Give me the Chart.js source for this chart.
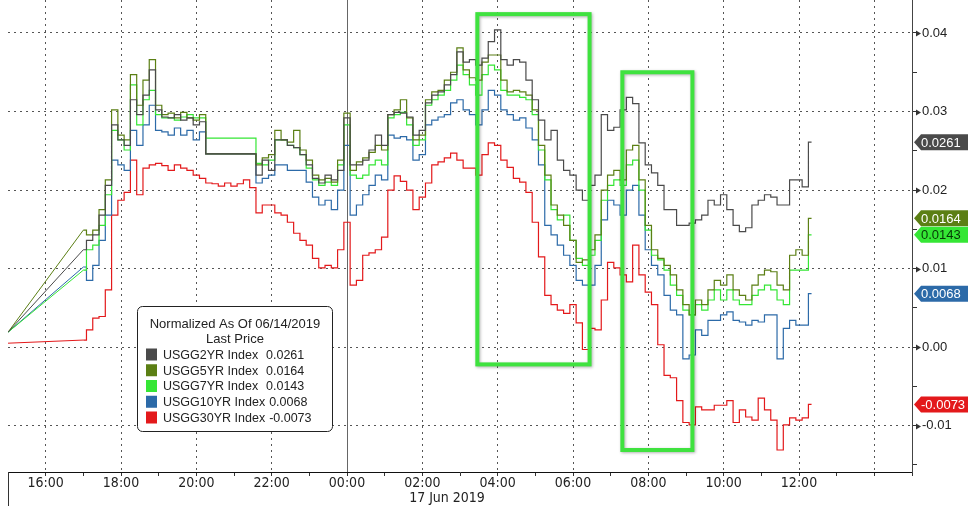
<!DOCTYPE html>
<html>
<head>
<meta charset="utf-8">
<script src="https://cdn.jsdelivr.net/npm/chart.js@4/dist/chart.umd.min.js"></script>
<style>
html, body { margin: 0; padding: 0; background: #fff; }
#wrap { width: 976px; height: 509px; }
</style>
</head>
<body>
<div id="wrap"><canvas id="yieldChart"></canvas></div>
<script>
// hours relative to 00:00 on 17 Jun 2019; first print Sunday 15:00, then 10-minute bars from 17:00
let times = [-9];
for (let i = 0; i <= 116; i++) times.push(-7 + i / 6);

let usgg2 = [0.0019,
  0.0124,0.0136,0.0143,0.0168,0.0206,0.0283,0.0264,0.0257,0.0315,0.0296,0.0321,0.0353,0.0302,0.0293,0.0292,0.0296,0.0289,0.0292,0.0283,0.0287,
  0.0246,0.0246,0.0246,0.0246,0.0246,0.0246,0.0246,0.0246,
  0.0219,0.0238,0.0225,0.0264,0.0264,0.0257,0.0254,0.0245,0.0232,0.0215,0.0209,0.0219,0.0213,0.0225,
  0.0292,0.0232,0.0232,0.0238,0.0251,0.0270,0.0257,0.0296,0.0299,0.0298,0.0293,0.0270,0.0276,
  0.0311,0.0321,0.0325,0.0334,0.0347,0.0376,0.0363,0.0366,0.0359,0.0368,0.0389,0.0404,0.0366,0.0359,0.0366,0.0363,
  0.0340,0.0315,0.0289,0.0264,0.0276,0.0238,0.0225,0.0219,0.0200,0.0187,0.0206,0.0219,
  0.0296,0.0276,0.0280,0.0302,0.0318,0.0310,0.0260,0.0232,0.0222,0.0206,
  0.0175,0.0175,0.0155,0.0155,0.0158,0.0162,0.0168,0.0187,0.0181,0.0194,0.0175,0.0155,
  0.0147,0.0152,0.0181,0.0187,0.0194,0.0191,0.0181,0.0181,0.0213,0.0213,0.0204,0.0261];

let usgg5 = [0.0019,
  0.0149,0.0143,0.0149,0.0175,0.0213,0.0302,0.0270,0.0264,0.0347,0.0308,0.0340,0.0366,0.0308,0.0296,0.0298,0.0292,0.0299,0.0292,0.0289,0.0296,
  0.0246,0.0246,0.0246,0.0246,0.0246,0.0246,0.0246,0.0246,
  0.0232,0.0241,0.0245,0.0276,0.0264,0.0261,0.0276,0.0251,0.0238,0.0219,0.0213,0.0215,0.0210,0.0238,
  0.0298,0.0225,0.0236,0.0241,0.0248,0.0257,0.0251,0.0296,0.0302,0.0315,0.0292,0.0264,0.0270,
  0.0315,0.0325,0.0327,0.0340,0.0350,0.0381,0.0353,0.0343,0.0340,0.0363,0.0372,0.0372,0.0340,0.0325,0.0327,0.0325,
  0.0321,0.0302,0.0257,0.0219,0.0181,0.0168,0.0155,0.0136,0.0108,0.0111,0.0124,0.0143,
  0.0200,0.0219,0.0225,0.0213,0.0251,0.0257,0.0213,0.0155,0.0124,0.0113,
  0.0104,0.0092,0.0073,0.0054,0.0041,0.0060,0.0054,0.0073,0.0085,0.0079,0.0092,0.0073,
  0.0066,0.0060,0.0079,0.0092,0.0098,0.0096,0.0079,0.0073,0.0117,0.0124,0.0117,0.0164];

let usgg7 = [0.0019,
  0.0098,0.0124,0.0130,0.0155,0.0194,0.0276,0.0264,0.0251,0.0334,0.0283,0.0315,0.0327,0.0296,0.0292,0.0292,0.0289,0.0293,0.0296,0.0292,0.0292,
  0.0266,0.0266,0.0266,0.0266,0.0266,0.0266,0.0266,0.0266,
  0.0234,0.0232,0.0238,0.0264,0.0264,0.0257,0.0254,0.0245,0.0228,0.0213,0.0206,0.0210,0.0206,0.0232,
  0.0283,0.0219,0.0215,0.0219,0.0232,0.0238,0.0232,0.0292,0.0296,0.0299,0.0283,0.0257,0.0264,
  0.0308,0.0315,0.0321,0.0327,0.0340,0.0359,0.0347,0.0334,0.0321,0.0347,0.0359,0.0353,0.0327,0.0321,0.0321,0.0318,
  0.0315,0.0296,0.0251,0.0213,0.0175,0.0162,0.0168,0.0136,0.0113,0.0104,0.0117,0.0136,
  0.0187,0.0206,0.0213,0.0206,0.0232,0.0238,0.0200,0.0149,0.0117,0.0111,
  0.0098,0.0079,0.0066,0.0047,0.0041,0.0054,0.0047,0.0060,0.0073,0.0060,0.0073,0.0060,
  0.0054,0.0054,0.0066,0.0073,0.0079,0.0073,0.0060,0.0054,0.0098,0.0098,0.0098,0.0143];

let usgg10 = [0.0019,
  0.0102,0.0085,0.0104,0.0136,0.0168,0.0238,0.0232,0.0225,0.0276,0.0257,0.0283,0.0308,0.0276,0.0274,0.0270,0.0279,0.0270,0.0276,0.0264,0.0274,
  0.0246,0.0246,0.0246,0.0246,0.0246,0.0246,0.0246,0.0246,
  0.0209,0.0215,0.0219,0.0232,0.0232,0.0225,0.0225,0.0225,0.0210,0.0191,0.0181,0.0187,0.0175,0.0200,
  0.0257,0.0168,0.0181,0.0194,0.0206,0.0219,0.0213,0.0270,0.0266,0.0268,0.0264,0.0238,0.0245,
  0.0283,0.0289,0.0293,0.0296,0.0311,0.0315,0.0302,0.0296,0.0283,0.0302,0.0327,0.0321,0.0302,0.0296,0.0289,0.0292,
  0.0279,0.0264,0.0232,0.0155,0.0143,0.0130,0.0117,0.0104,0.0085,0.0079,0.0079,0.0104,
  0.0162,0.0187,0.0181,0.0168,0.0200,0.0206,0.0168,0.0124,0.0104,0.0092,
  0.0066,0.0047,0.0041,-0.0015,-0.0010,0.0022,0.0015,0.0034,0.0034,0.0041,0.0045,0.0034,
  0.0032,0.0028,0.0034,0.0032,0.0041,0.0041,-0.0015,0.0024,0.0034,0.0028,0.0028,0.0068];

let usgg30 = [0.0005,
  0.0009,0.0022,0.0037,0.0039,0.0073,0.0168,0.0187,0.0197,0.0238,0.0194,0.0228,0.0232,0.0234,0.0231,0.0225,0.0232,0.0228,0.0225,0.0219,0.0215,
  0.0209,0.0208,0.0205,0.0209,0.0205,0.0208,0.0213,0.0203,
  0.0171,0.0181,0.0181,0.0171,0.0168,0.0159,0.0145,0.0136,0.0130,0.0113,0.0101,0.0104,0.0101,0.0124,
  0.0159,0.0079,0.0085,0.0117,0.0120,0.0124,0.0140,0.0200,0.0218,0.0211,0.0200,0.0175,0.0191,
  0.0209,0.0232,0.0236,0.0241,0.0247,0.0238,0.0228,0.0228,0.0219,0.0245,0.0260,0.0257,0.0238,0.0229,0.0215,0.0210,
  0.0197,0.0159,0.0115,0.0066,0.0054,0.0047,0.0043,0.0054,0.0031,-0.0003,0.0024,0.0022,
  0.0060,0.0108,0.0101,0.0092,0.0083,0.0130,0.0092,0.0070,0.0054,0.0003,
  -0.0036,-0.0039,-0.0068,-0.0096,-0.0099,-0.0076,-0.0080,-0.0080,-0.0074,-0.0074,-0.0068,-0.0096,
  -0.0080,-0.0089,-0.0093,-0.0065,-0.0080,-0.0093,-0.0131,-0.0099,-0.0090,-0.0093,-0.0090,-0.0073];

let seriesNames = ['USGG2YR Index', 'USGG5YR Index', 'USGG7YR Index', 'USGG10YR Index', 'USGG30YR Index'];
let seriesColors = ['#4a4a4a', '#5b7f14', '#35e635', '#2c6aa8', '#e3191b'];
let tagTextColors = ['#fff', '#fff', '#063806', '#fff', '#fff'];

let xLabelHours = [-8, -6, -4, -2, 0, 2, 4, 6, 8, 10, 12];
let xTickLabels = ['16:00', '18:00', '20:00', '22:00', '00:00', '02:00', '04:00', '06:00', '08:00', '10:00', '12:00'];
let yMajorTicks = [-0.01, 0.00, 0.01, 0.02, 0.03, 0.04];
let yMinorTicks = [-0.015, -0.005, 0.005, 0.015, 0.025, 0.035];

// green boxes drawn on the chart (hours, value)
let highlights = [
  { from: 3.46, to: 6.44, top: 0.0424, bottom: -0.0022 },
  { from: 7.31, to: 9.17, top: 0.0350, bottom: -0.0131 }
];

let allSeries = [usgg2, usgg5, usgg7, usgg10, usgg30];
let narrow = "'Liberation Sans Narrow', 'DejaVu Sans Condensed', sans-serif";
let plain = "'Liberation Sans', Arial, sans-serif";

function isMajorY(v) {
  return Math.abs(v * 100 - Math.round(v * 100)) < 1e-6;
}

function noEdgePadding(scale) {
  scale.paddingTop = 0;
  scale.paddingBottom = 0;
  scale.paddingLeft = 0;
  scale.paddingRight = 0;
}

let bbgDecor = {
  id: 'bbgDecor',
  beforeDatasetsDraw(chart) {
    let { ctx, chartArea: a, scales: { x } } = chart;
    let px = Math.round(x.getPixelForValue(0)) + 0.5;
    ctx.save();
    ctx.strokeStyle = '#666';
    ctx.lineWidth = 1;
    ctx.beginPath();
    ctx.moveTo(px, a.top);
    ctx.lineTo(px, a.bottom);
    ctx.stroke();
    ctx.restore();
  },
  afterDatasetsDraw(chart) {
    let { ctx, scales: { x, y } } = chart;
    ctx.save();
    ctx.strokeStyle = '#3fe23f';
    ctx.lineWidth = 4;
    ctx.shadowColor = 'rgba(0,0,0,0.3)';
    ctx.shadowBlur = 3;
    ctx.shadowOffsetX = 1;
    ctx.shadowOffsetY = 1;
    highlights.forEach(h => {
      let x1 = x.getPixelForValue(h.from), x2 = x.getPixelForValue(h.to);
      let y1 = y.getPixelForValue(h.top), y2 = y.getPixelForValue(h.bottom);
      ctx.strokeRect(x1, y1, x2 - x1, y2 - y1);
    });
    ctx.restore();
  },
  afterDraw(chart) {
    let { ctx, chartArea: a, scales: { x, y } } = chart;
    ctx.save();

    // arrow heads on the major y ticks
    ctx.fillStyle = '#333';
    yMajorTicks.forEach(v => {
      let py = Math.round(y.getPixelForValue(v)) + 0.5;
      ctx.beginPath();
      ctx.moveTo(a.right + 4, py - 3);
      ctx.lineTo(a.right + 9, py);
      ctx.lineTo(a.right + 4, py + 3);
      ctx.closePath();
      ctx.fill();
    });

    // left edge marker under the axis
    ctx.strokeStyle = '#333';
    ctx.lineWidth = 1;
    ctx.beginPath();
    ctx.moveTo(a.left + 0.5, a.bottom);
    ctx.lineTo(a.left + 0.5, a.bottom + 34);
    ctx.stroke();

    // date under the time labels
    ctx.fillStyle = '#222';
    ctx.font = '14px ' + narrow;
    ctx.textAlign = 'center';
    ctx.textBaseline = 'middle';
    ctx.fillText('17 Jun 2019', 447, 498);

    // last value tags on the right axis
    ctx.font = '13px ' + plain;
    ctx.textAlign = 'left';
    allSeries.forEach((s, i) => {
      let last = s[s.length - 1];
      let py = y.getPixelForValue(last);
      ctx.fillStyle = seriesColors[i];
      ctx.beginPath();
      ctx.moveTo(a.right + 2, py);
      ctx.lineTo(a.right + 9, py - 8);
      ctx.lineTo(a.right + 56, py - 8);
      ctx.lineTo(a.right + 56, py + 8);
      ctx.lineTo(a.right + 9, py + 8);
      ctx.closePath();
      ctx.fill();
      ctx.fillStyle = tagTextColors[i];
      ctx.fillText(last.toFixed(4), a.right + 9, py + 1);
    });

    // legend box
    let bx = 137.5, by = 306.5, bw = 195, bh = 125;
    ctx.fillStyle = '#fff';
    ctx.strokeStyle = '#222';
    ctx.beginPath();
    ctx.roundRect(bx, by, bw, bh, 5);
    ctx.fill();
    ctx.stroke();
    ctx.fillStyle = '#222';
    ctx.textAlign = 'center';
    ctx.font = '13px ' + plain;
    ctx.fillText('Normalized As Of 06/14/2019', bx + bw / 2, 324);
    ctx.fillText('Last Price', bx + bw / 2, 339);
    ctx.textAlign = 'left';
    ctx.font = '12.5px ' + plain;
    seriesNames.forEach((name, i) => {
      let ry = 354.5 + i * 15.75;
      ctx.fillStyle = seriesColors[i];
      ctx.fillRect(146, ry - 6, 11, 12);
      ctx.fillStyle = '#222';
      ctx.fillText(name, 163, ry + 1);
      let vx = Math.max(266, 163 + ctx.measureText(name).width + 4);
      let s = allSeries[i];
      ctx.fillText(s[s.length - 1].toFixed(4), vx, ry + 1);
    });
    ctx.restore();
  }
};

let ctx1 = document.getElementById('yieldChart').getContext('2d');

// weekend gap: straight line from the Sunday print to the 17:00 open
let gapSets = allSeries.map((s, i) => ({
  label: seriesNames[i] + ' gap',
  data: times.slice(0, 2).map((t, j) => ({ x: t, y: s[j] })),
  borderColor: seriesColors[i],
  borderWidth: 1,
  pointRadius: 0,
  tension: 0,
  fill: false
}));

let tradeSets = allSeries.map((s, i) => ({
  label: seriesNames[i],
  data: times.slice(1).map((t, j) => ({ x: t, y: s[j + 1] })),
  borderColor: seriesColors[i],
  borderWidth: 1.2,
  pointRadius: 0,
  stepped: 'middle',
  fill: false
}));

let config1 = {
  type: 'line',
  data: { datasets: tradeSets.concat(gapSets) },
  options: {
    animation: false,
    responsive: true,
    maintainAspectRatio: false,
    devicePixelRatio: 1,
    layout: { padding: { left: 8, right: 0, top: 0, bottom: 0 } },
    plugins: {
      legend: { display: false },
      tooltip: { enabled: false }
    },
    scales: {
      x: {
        type: 'linear',
        min: -9,
        max: 15,
        afterBuildTicks: scale => {
          let t = [];
          for (let h = -9; h <= 15; h++) t.push({ value: h });
          scale.ticks = t;
        },
        afterFit: scale => { scale.height = 37; noEdgePadding(scale); },
        ticks: {
          autoSkip: false,
          maxRotation: 0,
          padding: -1,
          color: '#222',
          font: { family: narrow, size: 14 },
          callback: v => {
            let k = xLabelHours.indexOf(v);
            return k >= 0 ? xTickLabels[k] : '';
          }
        },
        grid: {
          color: c => {
            let v = c.tick ? c.tick.value : null;
            return (v !== null && v % 2 === 0 && v > -9 && v < 15 && v !== 0) ? '#555' : 'rgba(0,0,0,0)';
          },
          lineWidth: 1,
          tickColor: '#333',
          tickLength: 4
        },
        border: { display: true, color: '#111', width: 1, dash: [2, 4] }
      },
      y: {
        type: 'linear',
        position: 'right',
        min: -0.0159,
        max: 0.0442,
        afterBuildTicks: scale => {
          scale.ticks = yMajorTicks.concat(yMinorTicks).sort((p, q) => p - q).map(v => ({ value: v }));
        },
        afterFit: scale => { scale.width = 64; noEdgePadding(scale); },
        ticks: {
          padding: 5,
          color: '#222',
          font: { family: plain, size: 13 },
          callback: v => isMajorY(v) ? v.toFixed(2) : ''
        },
        grid: {
          color: c => (c.tick && isMajorY(c.tick.value)) ? '#555' : 'rgba(0,0,0,0)',
          lineWidth: 1,
          tickColor: '#333',
          tickLength: 5
        },
        border: { display: true, color: '#444', width: 1, dash: [2, 4] }
      }
    }
  },
  plugins: [bbgDecor]
};

let chart1 = new Chart(ctx1, config1);
</script>
</body>
</html>
